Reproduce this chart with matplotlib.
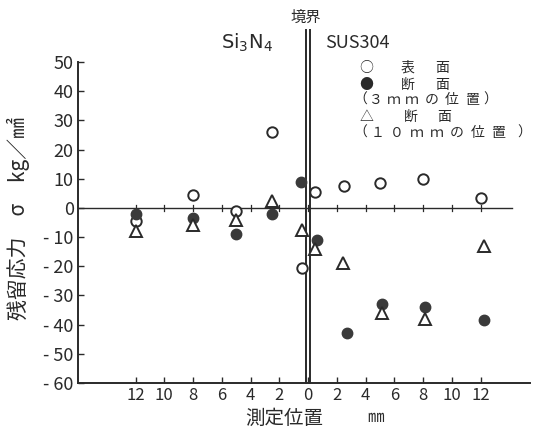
import matplotlib
matplotlib.use("Agg")
import matplotlib.pyplot as plt

plt.rcParams['font.family'] = ['Noto Sans CJK JP', 'DejaVu Sans']

# positions (mm): negative = Si3N4 side, positive = SUS304 side
pos_surface = [-12, -8, -5, -2.5, -0.4, 0.5, 2.5, 5, 8, 12]
val_surface = [-4.5, 4.5, -1, 26, -20.5, 5.5, 7.5, 8.5, 10, 3.5]

pos_sec3 = [-12, -8, -5, -2.5, -0.5, 0.6, 2.7, 5.1, 8.1, 12.2]
val_sec3 = [-2, -3.5, -9, -2, 9, -11, -43, -33, -34, -38.5]

pos_sec10 = [-12, -8, -5, -2.5, -0.4, 0.5, 2.4, 5.1, 8.1, 12.2]
val_sec10 = [-8, -6, -4, 2.5, -7.5, -14, -19, -36, -38, -13]

xticks = [-12, -10, -8, -6, -4, -2, 0, 2, 4, 6, 8, 10, 12]
xticklabels = ['12', '10', '8', '6', '4', '2', '0', '2', '4', '6', '8', '10', '12']
yticks = [50, 40, 30, 20, 10, 0, -10, -20, -30, -40, -50, -60]
yticklabels = ['50', '40', '30', '20', '10', '0', '- 10', '- 20', '- 30', '- 40', '- 50', '- 60']

legend_lines = [
    (['○', '表', '面'], [366, 408, 442], 68),
    (['●', '断', '面'], [366, 408, 442], 85),
    (['（', '３', 'ｍ', 'ｍ', 'の', '位', '置', '）'], [360, 376, 394, 412, 432, 452, 472, 490], 100),
    (['△', '断', '面'], [367, 411, 444], 117),
    (['（', '１', '０', 'ｍ', 'ｍ', 'の', '位', '置', '）'], [360, 378, 397, 417, 437, 457, 478, 498, 524], 133),
]

ink = '#2a2a2a'
fig = plt.figure(figsize=(5.4, 4.32), dpi=100)
ax = fig.add_axes([0.1444, 0.1134, 0.8366, 0.7431])
ax.set_xlim(-16.0, 15.4)
ax.set_ylim(-60, 50)

for s in ['top', 'right']:
    ax.spines[s].set_visible(False)
for s in ['left', 'bottom']:
    ax.spines[s].set_color(ink)
    ax.spines[s].set_linewidth(1.4)

ax.set_xticks(xticks)
ax.set_xticklabels(xticklabels, fontsize=12, color=ink)
ax.set_yticks(yticks)
ax.set_yticklabels(yticklabels, fontsize=13, color=ink)
ax.tick_params(axis='both', direction='in', length=4, width=1, colors=ink, pad=3)

# zero line with small ticks
ax.plot([-16.0, 14.2], [0, 0], color=ink, lw=1.0, zorder=1)
for t in xticks:
    ax.plot([t, t], [-1.0, 1.0], color=ink, lw=0.9, zorder=1)

# boundary double line
for dx in (-0.14, 0.14):
    ax.plot([dx, dx], [-60, 61], color=ink, lw=1.4, clip_on=False, zorder=2)

ax.plot(pos_surface, val_surface, 'o', ms=7.5, mfc='white', mec=ink, mew=1.4, zorder=3)
ax.plot(pos_sec3, val_sec3, 'o', ms=7.5, mfc='#3a3a3a', mec='#3a3a3a', mew=1.0, zorder=3)
ax.plot(pos_sec10, val_sec10, '^', ms=8, mfc='white', mec=ink, mew=1.4, zorder=3)

# top labels
fig.text(221/540, 1 - 43/432, 'Si$_3$N$_4$', fontsize=14, color=ink, va='center', ha='left',
         family='DejaVu Sans')
fig.text(325/540, 1 - 43/432, 'SUS304', fontsize=13, color=ink, va='center', ha='left')
fig.text(306/540, 1 - 17/432, '境界', fontsize=11, color=ink, va='center', ha='center')

# legend as text
for chars, xs, yy in legend_lines:
    for ch, xx in zip(chars, xs):
        fig.text(xx/540, 1 - yy/432, ch, fontsize=10, color=ink, va='center', ha='center')

# axis labels
fig.text(18/540, 1 - 218/432, '残留応力　σ　kg／㎟', rotation=90, fontsize=15,
         color=ink, va='center', ha='center')
fig.text(245/540, 1 - 418/432, '測定位置', fontsize=14, color=ink, va='center', ha='left')
fig.text(367/540, 1 - 418/432, '㎜', fontsize=12, color=ink, va='center', ha='left')

fig.savefig('out.png', dpi=100)
